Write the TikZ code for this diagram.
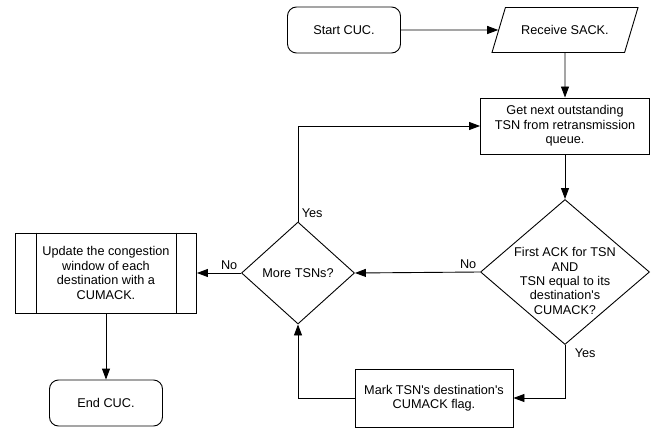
\documentclass[tikz,border=0pt]{standalone}
\usepackage{fontspec}
\setmainfont{Liberation Sans}
\usetikzlibrary{shapes.geometric,arrows.meta}

\begin{document}
\begin{tikzpicture}[x=1pt, y=-1pt,
    font=\fontsize{12.7}{14.4}\selectfont,
    line width=0.9pt,
    terminal/.style={draw, rectangle, rounded corners=9pt, minimum width=113pt, minimum height=46pt},
    inout/.style={draw, trapezium, trapezium left angle=50, trapezium right angle=130,
        trapezium stretches body, minimum width=146pt, minimum height=45pt},
    process/.style={draw, rectangle, align=center, minimum width=169pt, minimum height=56pt},
    decision/.style={draw, diamond, align=center, inner sep=-6pt},
    flow/.style={-{Triangle[length=11pt,width=8pt]}}]
    \useasboundingbox (0,0) rectangle (655,430);

    \node[terminal] (start) at (344,30) {Start CUC.};
    \node[inout] (sack) at (565,30) {Receive SACK.};
    \node[process] (get) at (565,126) {Get next outstanding\\TSN from retransmission\\queue.};
    % empty rule lowers the text a little inside the diamond
    \node[decision, minimum width=169pt, minimum height=145pt, inner sep=-14pt] (first) at (565,272)
        {\rule{0pt}{27pt}First ACK for TSN\\AND\\TSN equal to its\\destination\textquotesingle s\\CUMACK?};
    \node[decision, minimum width=113pt, minimum height=102pt] (more) at (298,273) {More TSNs?};
    \node[process, minimum width=181pt, minimum height=80pt] (upd) at (106,273)
        {Update the congestion\\window of each\\destination with a\\CUMACK.};
    \draw ([xshift=21pt]upd.north west) -- ([xshift=21pt]upd.south west);
    \draw ([xshift=-21pt]upd.north east) -- ([xshift=-21pt]upd.south east);
    \node[terminal] (endc) at (106,403) {End CUC.};
    \node[process, minimum width=158pt, minimum height=58pt] (mark) at (434,398)
        {Mark TSN\textquotesingle s destination\textquotesingle s\\CUMACK flag.};

    \draw[flow] (start) -- (sack);
    \draw[flow] (sack) -- (get);
    \draw[flow] (get) -- (first);
    \draw[flow] (first.west) node[above left] {No} -- (more.east);
    \draw[flow] (first.south) node[below right, xshift=6pt] {Yes} |- (mark.east);
    \draw[flow] (mark.west) -| (more.south);
    \draw[flow] (more.north) node[above right] {Yes} |- (get.west);
    \draw[flow] (more.west) node[above left] {No} -- (upd.east);
    \draw[flow] (upd) -- (endc);
\end{tikzpicture}
\end{document}
